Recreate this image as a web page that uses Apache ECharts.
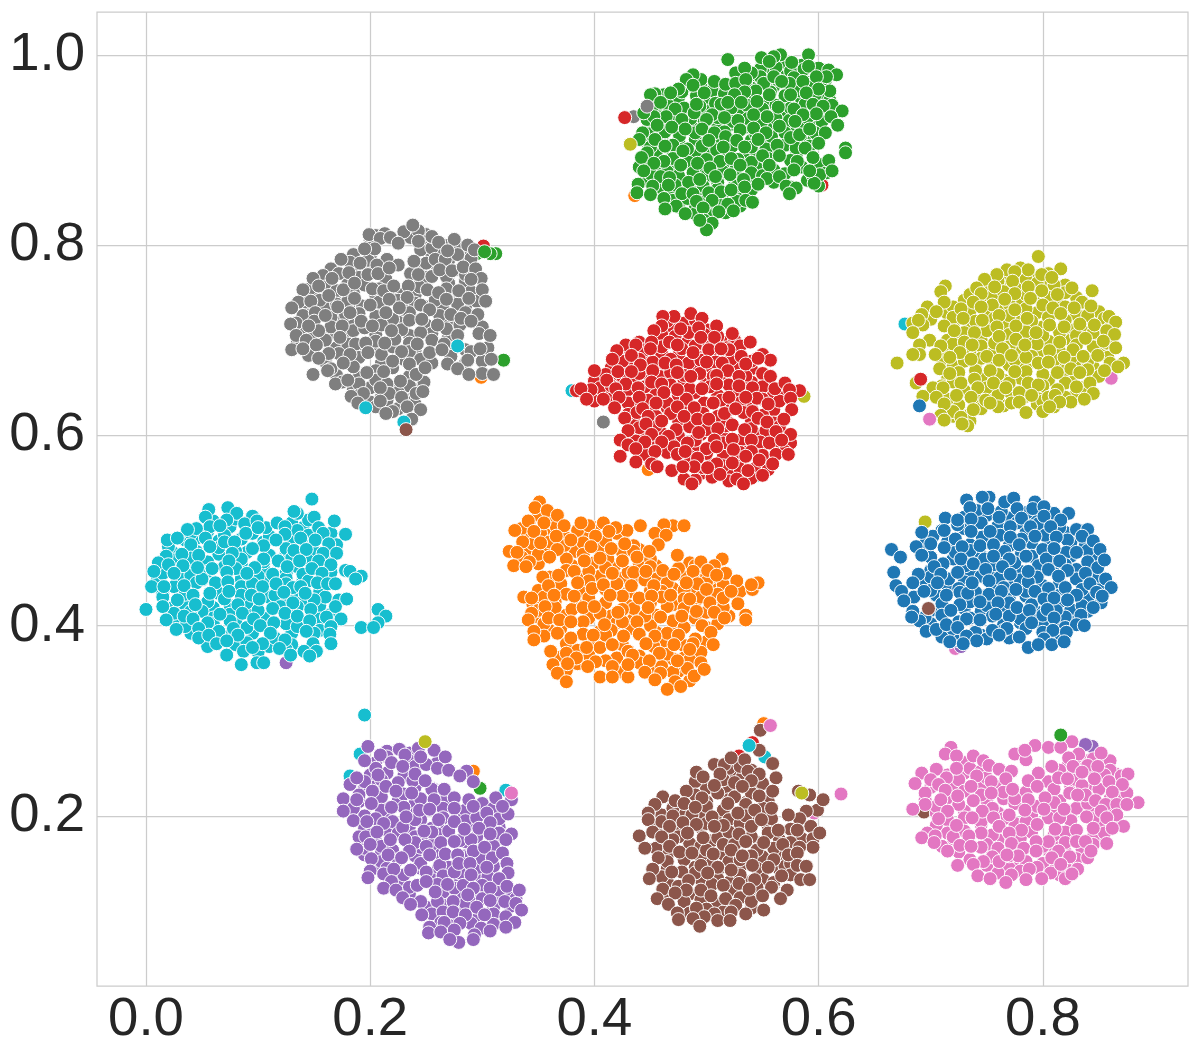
<!DOCTYPE html>
<html><head><meta charset="utf-8">
<style>html,body{margin:0;padding:0;background:#fff}#c{width:1200px;height:1050px}</style>
<script src="https://cdn.jsdelivr.net/npm/echarts@6/dist/echarts.min.js"></script>
</head><body><div id="c"></div>
<script>
const xTicks=[0,0.2,0.4,0.6,0.8];
const yTicks=[0.2,0.4,0.6,0.8,1.0];
const palette=['#1f77b4','#ff7f0e','#2ca02c','#d62728','#9467bd','#8c564b','#e377c2','#7f7f7f','#bcbd22','#17becf'];
const blue=[[.752,.535],[.746,.535],[.732,.532],[.766,.530],[.774,.534],[.793,.530],[.735,.524],[.751,.523],[.777,.523],[.791,.523],[.823,.518],[.801,.525],[.713,.513],[.724,.511],[.736,.512],[.761,.514],[.801,.515],[.816,.511],[.781,.513],[.692,.498],[.712,.500],[.736,.499],[.753,.499],[.771,.504],[.789,.504],[.807,.504],[.830,.501],[.840,.501],[.835,.494],[.845,.489],[.700,.486],[.712,.482],[.744,.484],[.756,.485],[.771,.493],[.793,.494],[.812,.493],[.779,.485],[.665,.480],[.687,.483],[.851,.480],[.673,.472],[.692,.474],[.727,.470],[.756,.473],[.785,.473],[.810,.481],[.830,.477],[.703,.462],[.738,.465],[.749,.459],[.764,.462],[.815,.468],[.849,.461],[.855,.469],[.667,.456],[.689,.454],[.724,.456],[.709,.454],[.787,.457],[.771,.454],[.822,.458],[.838,.455],[.856,.449],[.669,.442],[.684,.445],[.706,.445],[.737,.445],[.752,.447],[.805,.459],[.814,.452],[.842,.444],[.861,.440],[.674,.436],[.694,.436],[.714,.432],[.752,.433],[.763,.436],[.776,.438],[.793,.436],[.820,.440],[.830,.432],[.848,.435],[.853,.431],[.676,.426],[.698,.418],[.726,.422],[.744,.425],[.760,.424],[.801,.428],[.810,.429],[.822,.427],[.845,.419],[.684,.415],[.683,.409],[.718,.416],[.758,.412],[.777,.419],[.788,.416],[.804,.417],[.834,.411],[.696,.394],[.705,.396],[.714,.401],[.732,.407],[.744,.406],[.755,.395],[.768,.397],[.810,.408],[.790,.403],[.830,.401],[.837,.400],[.724,.398],[.732,.389],[.809,.395],[.779,.388],[.821,.393],[.717,.383],[.741,.384],[.761,.390],[.801,.386],[.787,.377],[.796,.380],[.808,.380],[.819,.383],[.729,.381]];
const blueHidden=[[.741,.521],[.763,.520],[.786,.519],[.810,.518],[.724,.506],[.745,.508],[.760,.505],[.777,.508],[.796,.507],[.815,.503],[.702,.494],[.722,.491],[.746,.493],[.762,.495],[.781,.491],[.802,.495],[.822,.490],[.722,.477],[.735,.479],[.766,.478],[.781,.476],[.800,.480],[.821,.477],[.840,.479],[.711,.465],[.731,.463],[.756,.464],[.775,.466],[.796,.463],[.820,.464],[.840,.467],[.700,.451],[.716,.449],[.745,.452],[.761,.450],[.780,.448],[.795,.451],[.830,.449],[.850,.452],[.700,.437],[.725,.439],[.740,.435],[.765,.440],[.785,.436],[.805,.439],[.835,.438],[.710,.423],[.735,.425],[.750,.421],[.770,.424],[.790,.422],[.815,.425],[.835,.421],[.852,.424],[.695,.409],[.710,.411],[.735,.408],[.755,.410],[.780,.407],[.800,.411],[.820,.409],[.690,.405],[.720,.396],[.740,.393],[.765,.395],[.785,.397],[.800,.393],[.820,.398],[.725,.384],[.750,.386],[.805,.384],[.770,.410],[.726,.435],[.787,.446],[.812,.416],[.733,.434],[.770,.470],[.803,.470],[.728,.483],[.748,.470]];
const blueDeep=[[.730,.514],[.750,.516],[.770,.513],[.790,.515],[.808,.512],[.710,.500],[.730,.502],[.750,.498],[.765,.501],[.785,.498],[.800,.501],[.820,.498],[.832,.500],[.695,.486],[.715,.488],[.735,.485],[.752,.487],[.770,.484],[.790,.487],[.805,.485],[.825,.487],[.838,.485],[.700,.472],[.720,.470],[.745,.473],[.765,.471],[.790,.473],[.810,.470],[.825,.473],[.845,.471],[.700,.458],[.735,.456],[.755,.459],[.780,.457],[.800,.459],[.815,.456],[.830,.459],[.845,.457],[.695,.444],[.715,.442],[.730,.446],[.760,.443],[.775,.445],[.800,.442],[.815,.445],[.850,.443],[.685,.430],[.705,.432],[.730,.428],[.745,.431],[.770,.429],[.785,.431],[.815,.432],[.840,.429],[.700,.416],[.730,.418],[.745,.415],[.765,.417],[.795,.414],[.825,.417],[.840,.415],[.700,.402],[.725,.404],[.765,.401],[.780,.403],[.800,.400],[.815,.403],[.825,.404],[.710,.388],[.745,.390],[.770,.387],[.815,.389]];
const orange=[[.351,.530],[.347,.524],[.358,.521],[.367,.516],[.341,.510],[.355,.508],[.329,.500],[.346,.499],[.373,.505],[.395,.505],[.408,.508],[.388,.508],[.441,.505],[.470,.505],[.480,.505],[.462,.506],[.429,.500],[.419,.503],[.336,.488],[.352,.487],[.366,.494],[.379,.490],[.401,.494],[.413,.499],[.427,.486],[.454,.497],[.464,.495],[.324,.478],[.367,.480],[.397,.483],[.415,.481],[.457,.485],[.449,.478],[.331,.477],[.328,.463],[.342,.467],[.360,.472],[.391,.468],[.405,.471],[.425,.468],[.438,.472],[.474,.474],[.514,.470],[.339,.462],[.495,.467],[.507,.463],[.354,.451],[.368,.453],[.382,.457],[.416,.455],[.446,.457],[.461,.458],[.488,.457],[.471,.454],[.501,.458],[.517,.455],[.509,.453],[.359,.442],[.398,.439],[.408,.443],[.433,.442],[.453,.442],[.492,.444],[.527,.447],[.541,.438],[.546,.445],[.540,.443],[.482,.445],[.337,.430],[.344,.429],[.364,.432],[.382,.431],[.414,.432],[.440,.429],[.451,.431],[.468,.432],[.500,.438],[.515,.429],[.522,.436],[.385,.445],[.356,.420],[.390,.419],[.400,.420],[.425,.417],[.448,.419],[.485,.428],[.503,.424],[.528,.423],[.344,.413],[.359,.408],[.369,.406],[.421,.414],[.459,.409],[.478,.410],[.491,.415],[.507,.414],[.535,.411],[.535,.406],[.516,.408],[.341,.406],[.379,.404],[.409,.401],[.438,.404],[.496,.400],[.346,.394],[.346,.385],[.367,.392],[.379,.387],[.399,.390],[.426,.389],[.440,.391],[.454,.389],[.475,.390],[.504,.393],[.361,.373],[.393,.377],[.416,.380],[.446,.381],[.471,.380],[.488,.381],[.506,.380],[.375,.371],[.458,.371],[.434,.369],[.485,.375],[.384,.366],[.363,.359],[.376,.360],[.401,.362],[.416,.357],[.430,.359],[.449,.363],[.483,.355],[.495,.361],[.394,.357],[.474,.363],[.445,.351],[.459,.350],[.367,.350],[.405,.346],[.375,.341],[.416,.346],[.472,.341],[.465,.333],[.477,.336],[.489,.347],[.498,.354],[.454,.343]];
const orangeHidden=[[.350,.516],[.362,.512],[.335,.502],[.352,.497],[.366,.504],[.385,.500],[.400,.503],[.420,.497],[.345,.486],[.360,.488],[.373,.484],[.390,.487],[.410,.489],[.435,.484],[.335,.472],[.350,.475],[.375,.470],[.390,.475],[.412,.470],[.435,.478],[.450,.470],[.375,.458],[.395,.457],[.410,.461],[.430,.456],[.450,.462],[.475,.460],[.490,.463],[.500,.451],[.370,.444],[.395,.447],[.420,.444],[.445,.448],[.465,.445],[.480,.437],[.500,.446],[.515,.443],[.355,.430],[.375,.433],[.395,.429],[.425,.431],[.460,.436],[.480,.428],[.495,.430],[.510,.433],[.350,.416],[.365,.419],[.380,.417],[.405,.413],[.435,.418],[.465,.420],[.480,.418],[.500,.414],[.515,.419],[.355,.402],[.390,.404],[.420,.403],[.450,.400],[.470,.405],[.480,.398],[.510,.402],[.355,.389],[.390,.391],[.410,.388],[.415,.395],[.465,.392],[.490,.386],[.385,.374],[.405,.377],[.430,.373],[.465,.370],[.480,.366],[.495,.372],[.385,.360],[.410,.363],[.440,.361],[.460,.357],[.485,.364],[.430,.346],[.470,.351],[.485,.342],[.530,.436],[.460,.430],[.435,.456],[.425,.404],[.445,.410],[.410,.390],[.453,.378]];
const orangeDeep=[[.342,.510],[.358,.514],[.340,.493],[.358,.495],[.375,.492],[.390,.495],[.408,.492],[.425,.494],[.340,.479],[.360,.481],[.383,.478],[.405,.480],[.425,.477],[.440,.480],[.350,.465],[.380,.463],[.400,.466],[.418,.463],[.440,.465],[.455,.463],[.485,.466],[.360,.451],[.390,.449],[.405,.452],[.425,.450],[.440,.452],[.455,.449],[.480,.451],[.495,.453],[.510,.449],[.350,.437],[.365,.439],[.390,.436],[.410,.438],[.430,.435],[.450,.437],[.470,.439],[.490,.436],[.510,.438],[.525,.435],[.345,.423],[.365,.425],[.385,.422],[.410,.424],[.430,.421],[.450,.424],[.470,.422],[.490,.425],[.510,.422],[.350,.409],[.375,.411],[.395,.408],[.415,.410],[.435,.407],[.455,.411],[.490,.408],[.520,.410],[.360,.395],[.370,.397],[.405,.394],[.430,.396],[.455,.393],[.470,.396],[.500,.398],[.375,.381],[.400,.383],[.425,.380],[.460,.382],[.480,.379],[.500,.383],[.370,.367],[.395,.369],[.420,.366],[.440,.368],[.470,.365],[.490,.368],[.375,.353],[.425,.351],[.455,.355],[.475,.352]];
const green=[[.519,.995],[.566,1.0],[.591,1.0],[.560,.998],[.549,.997],[.576,.992],[.591,.988],[.556,.993],[.609,.984],[.616,.979],[.607,.977],[.598,.977],[.540,.981],[.526,.981],[.534,.986],[.488,.979],[.482,.974],[.488,.968],[.507,.972],[.517,.969],[.526,.970],[.535,.974],[.551,.970],[.560,.977],[.574,.970],[.586,.972],[.567,.972],[.610,.962],[.600,.964],[.589,.960],[.575,.958],[.556,.958],[.544,.962],[.534,.961],[.525,.958],[.498,.960],[.475,.964],[.468,.960],[.454,.959],[.450,.958],[.459,.950],[.472,.943],[.489,.939],[.491,.948],[.513,.948],[.505,.937],[.519,.950],[.531,.950],[.545,.951],[.564,.945],[.578,.943],[.595,.948],[.604,.946],[.621,.941],[.611,.935],[.598,.938],[.586,.937],[.579,.930],[.554,.935],[.542,.937],[.528,.931],[.516,.934],[.500,.932],[.478,.932],[.464,.935],[.453,.935],[.444,.939],[.456,.926],[.469,.924],[.481,.922],[.496,.922],[.507,.918],[.517,.914],[.530,.921],[.542,.923],[.553,.918],[.565,.925],[.575,.913],[.583,.916],[.592,.922],[.606,.918],[.617,.926],[.443,.918],[.440,.911],[.454,.911],[.463,.904],[.479,.899],[.502,.910],[.515,.903],[.527,.910],[.534,.903],[.546,.911],[.563,.905],[.588,.902],[.600,.907],[.624,.902],[.624,.897],[.447,.897],[.442,.892],[.462,.888],[.453,.886],[.477,.884],[.492,.886],[.512,.888],[.522,.891],[.550,.894],[.565,.894],[.581,.888],[.595,.892],[.609,.889],[.530,.884],[.556,.884],[.503,.881],[.459,.872],[.444,.878],[.467,.871],[.484,.866],[.494,.869],[.508,.872],[.521,.874],[.533,.869],[.554,.870],[.565,.872],[.578,.879],[.601,.874],[.612,.878],[.439,.864],[.452,.862],[.466,.863],[.478,.854],[.488,.854],[.502,.855],[.513,.856],[.522,.858],[.534,.861],[.546,.864],[.571,.862],[.580,.860],[.596,.865],[.592,.878],[.574,.854],[.438,.855],[.450,.853],[.462,.849],[.505,.847],[.519,.843],[.535,.847],[.541,.845],[.491,.846],[.473,.841],[.463,.838],[.481,.833],[.497,.839],[.511,.835],[.524,.836],[.498,.826],[.505,.823],[.500,.816],[.494,.826]];
const greenHidden=[[.548,.985],[.562,.987],[.575,.983],[.587,.985],[.600,.986],[.495,.974],[.535,.972],[.548,.977],[.563,.974],[.578,.976],[.592,.971],[.606,.973],[.462,.958],[.478,.961],[.491,.957],[.505,.962],[.516,.959],[.530,.963],[.543,.958],[.557,.961],[.570,.957],[.583,.962],[.597,.958],[.452,.946],[.465,.948],[.480,.944],[.494,.946],[.508,.949],[.522,.944],[.536,.947],[.550,.943],[.562,.947],[.575,.944],[.588,.948],[.600,.943],[.612,.947],[.447,.932],[.460,.934],[.473,.930],[.486,.933],[.498,.930],[.510,.934],[.523,.930],[.537,.933],[.549,.929],[.562,.933],[.574,.931],[.590,.934],[.603,.930],[.450,.917],[.463,.919],[.476,.915],[.490,.918],[.503,.915],[.516,.919],[.544,.917],[.558,.914],[.570,.918],[.584,.915],[.597,.918],[.450,.903],[.470,.905],[.483,.901],[.496,.904],[.509,.900],[.523,.904],[.540,.903],[.553,.901],[.570,.905],[.580,.902],[.592,.904],[.448,.889],[.470,.891],[.484,.887],[.500,.890],[.515,.886],[.528,.890],[.540,.887],[.555,.891],[.575,.889],[.600,.885],[.450,.875],[.465,.877],[.475,.873],[.488,.876],[.500,.873],[.515,.877],[.527,.873],[.540,.876],[.550,.873],[.570,.875],[.595,.873],[.607,.876],[.458,.861],[.472,.863],[.485,.859],[.497,.862],[.510,.859],[.527,.862],[.540,.858],[.575,.861],[.600,.862],[.470,.847],[.483,.849],[.497,.845],[.512,.848],[.527,.846],[.490,.833],[.503,.831],[.517,.834]];
const greenDeep=[[.550,.990],[.570,.992],[.585,.989],[.540,.978],[.555,.980],[.570,.977],[.585,.979],[.600,.980],[.480,.965],[.495,.967],[.510,.964],[.520,.966],[.540,.965],[.560,.967],[.580,.964],[.595,.966],[.605,.965],[.460,.953],[.475,.955],[.500,.952],[.510,.954],[.525,.951],[.540,.954],[.555,.952],[.570,.955],[.585,.952],[.600,.954],[.610,.952],[.455,.940],[.470,.942],[.480,.939],[.500,.941],[.515,.938],[.530,.941],[.545,.939],[.560,.941],[.570,.938],[.595,.941],[.610,.939],[.450,.925],[.460,.927],[.475,.924],[.490,.926],[.510,.923],[.520,.926],[.535,.924],[.550,.927],[.560,.924],[.575,.926],[.585,.923],[.600,.925],[.445,.910],[.460,.912],[.475,.909],[.490,.911],[.510,.908],[.520,.911],[.540,.910],[.555,.908],[.575,.911],[.590,.909],[.455,.896],[.470,.898],[.490,.895],[.505,.897],[.520,.894],[.535,.897],[.545,.895],[.560,.898],[.580,.895],[.440,.882],[.460,.884],[.470,.881],[.495,.883],[.505,.880],[.520,.883],[.545,.881],[.560,.879],[.585,.882],[.605,.880],[.445,.868],[.460,.870],[.480,.867],[.495,.869],[.510,.866],[.525,.869],[.540,.867],[.560,.866],[.590,.868],[.460,.854],[.470,.856],[.495,.853],[.515,.855],[.530,.852],[.475,.840],[.490,.842],[.505,.839],[.530,.841]];
const red=[[.486,.728],[.471,.725],[.461,.725],[.496,.723],[.509,.715],[.477,.712],[.493,.713],[.460,.715],[.453,.710],[.523,.707],[.539,.698],[.507,.703],[.495,.703],[.467,.698],[.474,.695],[.451,.698],[.428,.695],[.437,.695],[.450,.691],[.488,.687],[.502,.690],[.520,.690],[.513,.691],[.420,.689],[.433,.684],[.416,.680],[.441,.674],[.463,.676],[.473,.674],[.500,.677],[.514,.676],[.531,.683],[.535,.675],[.550,.685],[.557,.679],[.400,.668],[.421,.667],[.433,.667],[.452,.668],[.474,.666],[.486,.662],[.519,.668],[.546,.681],[.557,.662],[.529,.662],[.509,.663],[.411,.658],[.428,.654],[.439,.650],[.451,.656],[.460,.654],[.496,.649],[.474,.648],[.509,.654],[.529,.652],[.541,.650],[.561,.649],[.570,.655],[.583,.647],[.384,.647],[.397,.648],[.388,.649],[.462,.645],[.419,.649],[.574,.648],[.575,.639],[.520,.640],[.545,.639],[.393,.638],[.408,.638],[.422,.640],[.440,.640],[.455,.634],[.474,.630],[.489,.629],[.506,.634],[.535,.640],[.555,.633],[.576,.627],[.418,.629],[.443,.628],[.516,.623],[.526,.628],[.541,.625],[.427,.618],[.448,.620],[.446,.612],[.460,.615],[.480,.620],[.492,.617],[.502,.617],[.546,.618],[.554,.614],[.569,.617],[.523,.611],[.430,.605],[.451,.601],[.466,.599],[.493,.603],[.510,.607],[.507,.595],[.534,.606],[.575,.601],[.562,.604],[.423,.595],[.430,.590],[.445,.593],[.471,.588],[.460,.593],[.483,.592],[.500,.586],[.523,.596],[.540,.595],[.556,.592],[.567,.595],[.437,.586],[.454,.583],[.474,.580],[.481,.583],[.492,.576],[.524,.585],[.540,.583],[.562,.580],[.573,.580],[.509,.588],[.423,.578],[.437,.572],[.451,.570],[.509,.570],[.523,.571],[.547,.574],[.535,.578],[.559,.570],[.456,.567],[.469,.563],[.489,.567],[.501,.566],[.512,.559],[.537,.563],[.550,.558],[.480,.554],[.527,.554],[.487,.549],[.533,.549],[.479,.567]];
const redHidden=[[.465,.720],[.480,.718],[.490,.721],[.460,.706],[.472,.704],[.484,.708],[.498,.706],[.510,.704],[.430,.692],[.445,.690],[.460,.693],[.478,.691],[.490,.694],[.505,.690],[.518,.692],[.530,.694],[.425,.678],[.440,.680],[.452,.677],[.468,.680],[.484,.676],[.495,.679],[.508,.677],[.522,.680],[.540,.678],[.410,.664],[.425,.662],[.440,.665],[.458,.662],[.468,.666],[.480,.663],[.494,.665],[.506,.662],[.517,.665],[.535,.662],[.550,.665],[.405,.650],[.415,.652],[.430,.648],[.445,.651],[.468,.653],[.485,.649],[.503,.651],[.520,.653],[.535,.649],[.550,.651],[.565,.648],[.400,.636],[.415,.638],[.430,.634],[.448,.637],[.465,.634],[.482,.638],[.498,.634],[.513,.637],[.530,.634],[.550,.638],[.565,.636],[.430,.622],[.438,.624],[.455,.620],[.468,.623],[.485,.619],[.497,.623],[.510,.620],[.533,.624],[.550,.621],[.440,.608],[.455,.610],[.473,.606],[.485,.609],[.500,.606],[.517,.610],[.540,.607],[.553,.605],[.565,.609],[.437,.594],[.452,.596],[.468,.592],[.490,.595],[.515,.592],[.532,.596],[.548,.593],[.575,.592],[.445,.580],[.465,.582],[.485,.578],[.500,.581],[.515,.578],[.530,.582],[.550,.579],[.570,.583],[.497,.566],[.515,.568],[.530,.565],[.545,.567],[.555,.564],[.490,.553],[.505,.556],[.520,.552],[.540,.555]];
const redDeep=[[.470,.712],[.490,.714],[.500,.711],[.440,.698],[.460,.700],[.482,.697],[.500,.699],[.515,.698],[.525,.700],[.430,.685],[.445,.683],[.460,.686],[.475,.684],[.490,.686],[.510,.684],[.525,.686],[.415,.671],[.430,.673],[.445,.670],[.460,.672],[.478,.669],[.490,.672],[.505,.670],[.525,.672],[.540,.670],[.400,.657],[.420,.659],[.435,.656],[.450,.658],[.465,.655],[.480,.658],[.500,.656],[.515,.658],[.540,.656],[.555,.658],[.410,.643],[.425,.645],[.440,.642],[.455,.644],[.475,.642],[.490,.645],[.510,.642],[.525,.644],[.540,.642],[.560,.644],[.435,.630],[.450,.627],[.465,.629],[.480,.627],[.497,.630],[.520,.627],[.540,.629],[.560,.627],[.435,.615],[.450,.613],[.475,.616],[.490,.613],[.505,.615],[.520,.613],[.540,.616],[.560,.613],[.440,.600],[.460,.602],[.475,.599],[.495,.601],[.515,.599],[.545,.601],[.560,.598],[.570,.601],[.450,.587],[.465,.589],[.490,.586],[.510,.588],[.530,.586],[.550,.589],[.565,.587],[.450,.574],[.500,.573],[.515,.575],[.530,.572],[.550,.574],[.495,.560],[.520,.562],[.540,.560]];
const purple=[[.198,.273],[.209,.264],[.195,.258],[.226,.270],[.231,.264],[.243,.271],[.257,.269],[.267,.262],[.245,.262],[.182,.233],[.176,.218],[.188,.240],[.188,.217],[.176,.205],[.202,.226],[.207,.243],[.219,.256],[.229,.252],[.240,.244],[.260,.250],[.270,.248],[.286,.247],[.280,.242],[.292,.236],[.214,.231],[.223,.226],[.237,.224],[.266,.228],[.249,.237],[.201,.213],[.219,.209],[.257,.217],[.275,.219],[.288,.217],[.312,.219],[.326,.217],[.244,.206],[.275,.208],[.253,.207],[.304,.203],[.323,.202],[.318,.210],[.292,.210],[.197,.194],[.212,.192],[.229,.188],[.261,.196],[.275,.194],[.307,.193],[.232,.199],[.326,.181],[.190,.178],[.196,.178],[.206,.183],[.218,.175],[.248,.184],[.284,.186],[.297,.187],[.307,.181],[.188,.165],[.200,.170],[.231,.175],[.263,.172],[.275,.173],[.292,.163],[.302,.167],[.321,.175],[.201,.155],[.216,.159],[.235,.163],[.253,.159],[.267,.160],[.278,.159],[.309,.156],[.318,.161],[.322,.150],[.228,.156],[.200,.142],[.198,.135],[.212,.139],[.221,.144],[.236,.143],[.279,.150],[.289,.150],[.304,.146],[.323,.140],[.219,.131],[.242,.127],[.250,.131],[.269,.128],[.290,.138],[.315,.134],[.322,.126],[.212,.124],[.223,.122],[.333,.122],[.292,.124],[.307,.124],[.287,.117],[.229,.114],[.245,.110],[.258,.120],[.274,.110],[.307,.111],[.236,.107],[.295,.104],[.335,.101],[.246,.096],[.274,.099],[.285,.096],[.302,.096],[.321,.094],[.329,.088],[.263,.088],[.253,.083],[.266,.088],[.280,.087],[.299,.082],[.321,.083],[.252,.077],[.263,.078],[.275,.080],[.293,.075],[.279,.067],[.271,.070],[.292,.070],[.307,.079]];
const purpleHidden=[[.215,.262],[.205,.250],[.240,.252],[.250,.254],[.195,.236],[.210,.238],[.225,.235],[.238,.237],[.255,.228],[.190,.222],[.210,.220],[.230,.223],[.245,.218],[.185,.208],[.210,.206],[.230,.209],[.265,.208],[.285,.206],[.310,.208],[.185,.195],[.205,.197],[.220,.194],[.245,.196],[.265,.198],[.285,.195],[.295,.198],[.315,.197],[.200,.180],[.225,.182],[.240,.178],[.260,.181],[.270,.184],[.295,.178],[.315,.182],[.195,.166],[.210,.168],[.220,.164],[.245,.167],[.255,.170],[.285,.173],[.310,.168],[.210,.152],[.225,.154],[.245,.150],[.262,.148],[.290,.160],[.300,.155],[.230,.138],[.250,.141],[.265,.137],[.280,.140],[.305,.136],[.330,.113],[.235,.125],[.260,.128],[.275,.124],[.300,.127],[.315,.122],[.260,.110],[.285,.108],[.295,.113],[.320,.110],[.255,.097],[.265,.099],[.295,.091],[.310,.097],[.330,.108],[.270,.085],[.290,.087],[.310,.086],[.240,.196],[.240,.172],[.280,.174],[.255,.183],[.300,.113],[.283,.127],[.215,.145],[.290,.175],[.250,.168],[.275,.141]];
const purpleDeep=[[.215,.268],[.235,.266],[.205,.256],[.235,.258],[.260,.256],[.200,.243],[.215,.245],[.230,.242],[.195,.229],[.205,.231],[.240,.230],[.255,.229],[.190,.215],[.210,.213],[.225,.216],[.240,.213],[.265,.215],[.300,.213],[.195,.200],[.215,.202],[.240,.202],[.265,.200],[.280,.202],[.300,.199],[.315,.202],[.195,.187],[.215,.185],[.235,.189],[.255,.187],[.265,.189],[.290,.185],[.315,.188],[.205,.173],[.240,.175],[.250,.172],[.285,.180],[.310,.174],[.195,.159],[.210,.161],[.240,.158],[.260,.161],[.285,.158],[.300,.160],[.210,.147],[.245,.145],[.260,.143],[.270,.146],[.295,.144],[.310,.147],[.225,.131],[.255,.133],[.280,.130],[.300,.132],[.310,.130],[.235,.118],[.265,.120],[.280,.116],[.315,.117],[.325,.119],[.250,.104],[.265,.106],[.285,.102],[.310,.104],[.325,.105],[.275,.091],[.310,.090]];
const brown=[[.548,.290],[.547,.269],[.559,.255],[.534,.259],[.507,.254],[.516,.254],[.522,.261],[.491,.246],[.497,.241],[.512,.244],[.537,.247],[.547,.244],[.562,.240],[.540,.237],[.482,.226],[.507,.232],[.496,.219],[.532,.231],[.559,.226],[.547,.221],[.461,.220],[.472,.216],[.480,.213],[.519,.213],[.454,.212],[.448,.203],[.490,.209],[.505,.199],[.528,.203],[.543,.206],[.558,.208],[.582,.226],[.592,.222],[.599,.206],[.604,.217],[.589,.205],[.583,.197],[.448,.196],[.467,.189],[.479,.193],[.491,.191],[.507,.189],[.540,.189],[.549,.196],[.564,.185],[.573,.201],[.593,.189],[.440,.179],[.452,.183],[.460,.178],[.483,.182],[.529,.181],[.497,.177],[.551,.172],[.535,.173],[.595,.176],[.601,.182],[.581,.185],[.467,.168],[.445,.166],[.476,.162],[.487,.161],[.506,.160],[.522,.164],[.532,.158],[.568,.170],[.595,.167],[.583,.167],[.457,.156],[.495,.148],[.510,.146],[.555,.146],[.573,.159],[.581,.161],[.581,.148],[.589,.147],[.452,.144],[.478,.141],[.501,.140],[.522,.143],[.541,.148],[.449,.134],[.469,.141],[.484,.132],[.543,.133],[.529,.129],[.515,.127],[.567,.137],[.584,.133],[.592,.133],[.461,.123],[.482,.122],[.495,.122],[.538,.123],[.558,.125],[.572,.122],[.472,.119],[.456,.113],[.504,.116],[.517,.113],[.550,.116],[.566,.113],[.466,.107],[.526,.106],[.491,.103],[.507,.097],[.535,.097],[.551,.101],[.474,.098],[.498,.094],[.522,.099],[.475,.091],[.488,.092],[.510,.090],[.521,.090],[.494,.084]];
const brownHidden=[[.520,.250],[.530,.252],[.540,.248],[.490,.236],[.515,.238],[.525,.235],[.550,.234],[.490,.222],[.510,.224],[.525,.220],[.540,.224],[.470,.208],[.500,.210],[.515,.206],[.535,.212],[.550,.208],[.460,.194],[.500,.192],[.520,.196],[.530,.192],[.558,.197],[.465,.180],[.475,.178],[.510,.177],[.520,.183],[.540,.178],[.555,.182],[.585,.176],[.455,.166],[.495,.168],[.515,.170],[.545,.164],[.560,.166],[.575,.172],[.465,.152],[.480,.154],[.505,.150],[.520,.152],[.540,.158],[.560,.154],[.575,.150],[.460,.136],[.490,.140],[.510,.134],[.530,.138],[.550,.134],[.575,.138],[.475,.126],[.505,.128],[.525,.122],[.545,.125],[.560,.130],[.480,.110],[.495,.112],[.510,.108],[.530,.114],[.540,.110],[.485,.098],[.500,.102],[.515,.099],[.530,.154],[.487,.201],[.515,.190],[.500,.164],[.470,.200],[.535,.200],[.525,.170],[.545,.145],[.470,.175]];
const brownDeep=[[.525,.243],[.532,.241],[.500,.229],[.520,.227],[.545,.230],[.500,.215],[.520,.217],[.535,.214],[.555,.216],[.460,.201],[.480,.203],[.495,.200],[.515,.198],[.540,.202],[.555,.200],[.455,.187],[.475,.185],[.495,.188],[.515,.184],[.525,.187],[.555,.189],[.575,.186],[.460,.173],[.485,.171],[.505,.174],[.520,.175],[.545,.172],[.565,.175],[.465,.159],[.495,.157],[.515,.160],[.550,.157],[.565,.159],[.465,.145],[.490,.146],[.510,.143],[.530,.146],[.565,.144],[.570,.147],[.465,.131],[.495,.133],[.520,.130],[.540,.131],[.560,.128],[.465,.117],[.485,.118],[.530,.120],[.540,.117],[.500,.104],[.515,.103],[.540,.103]];
const pink=[[.718,.272],[.713,.265],[.723,.263],[.738,.263],[.747,.258],[.752,.253],[.775,.265],[.785,.259],[.793,.274],[.784,.269],[.805,.272],[.826,.278],[.816,.272],[.832,.265],[.852,.266],[.823,.261],[.692,.245],[.705,.249],[.723,.250],[.741,.242],[.761,.249],[.772,.247],[.796,.245],[.808,.252],[.827,.252],[.849,.252],[.835,.246],[.870,.242],[.876,.244],[.686,.234],[.700,.238],[.714,.240],[.707,.233],[.736,.231],[.754,.236],[.767,.239],[.787,.237],[.814,.240],[.822,.239],[.846,.239],[.859,.236],[.871,.233],[.713,.227],[.724,.221],[.754,.224],[.773,.228],[.795,.231],[.862,.225],[.824,.224],[.802,.219],[.709,.217],[.831,.222],[.695,.212],[.684,.207],[.738,.216],[.787,.217],[.847,.216],[.856,.212],[.866,.212],[.885,.214],[.875,.212],[.715,.205],[.746,.205],[.770,.201],[.784,.206],[.801,.207],[.819,.207],[.839,.199],[.852,.205],[.866,.201],[.707,.197],[.737,.198],[.756,.198],[.857,.198],[.872,.189],[.723,.190],[.761,.189],[.795,.191],[.811,.186],[.845,.187],[.862,.187],[.697,.182],[.692,.177],[.704,.179],[.745,.182],[.781,.185],[.830,.185],[.734,.179],[.770,.182],[.805,.173],[.794,.173],[.830,.173],[.857,.171],[.838,.173],[.715,.163],[.726,.169],[.736,.168],[.772,.171],[.783,.166],[.814,.163],[.843,.163],[.703,.172],[.747,.152],[.778,.158],[.794,.163],[.808,.156],[.824,.157],[.724,.148],[.761,.152],[.768,.159],[.738,.149],[.831,.144],[.742,.137],[.753,.134],[.772,.138],[.788,.144],[.807,.140],[.816,.149],[.767,.130],[.785,.133],[.799,.134],[.820,.134],[.826,.139]];
const pinkHidden=[[.830,.262],[.845,.260],[.860,.258],[.735,.250],[.745,.247],[.820,.250],[.840,.253],[.860,.248],[.725,.238],[.750,.240],[.815,.248],[.830,.238],[.855,.243],[.870,.238],[.695,.224],[.730,.226],[.745,.222],[.765,.225],[.810,.228],[.835,.232],[.850,.228],[.870,.222],[.705,.210],[.725,.212],[.755,.208],[.775,.213],[.795,.210],[.810,.214],[.830,.208],[.840,.213],[.860,.218],[.875,.224],[.715,.196],[.730,.198],[.745,.194],[.765,.197],[.785,.194],[.805,.198],[.825,.195],[.845,.197],[.865,.193],[.715,.182],[.730,.184],[.755,.180],[.790,.183],[.810,.180],[.820,.183],[.845,.178],[.855,.182],[.710,.168],[.750,.170],[.760,.166],[.800,.168],[.820,.172],[.845,.170],[.735,.154],[.755,.157],[.785,.152],[.800,.150],[.830,.155],[.760,.140],[.780,.142],[.795,.146],[.815,.138],[.775,.218],[.815,.198],[.720,.178],[.745,.167],[.770,.158],[.840,.156],[.838,.222]];
const pinkDeep=[[.730,.256],[.830,.256],[.840,.258],[.855,.255],[.715,.243],[.730,.245],[.825,.243],[.845,.246],[.865,.244],[.700,.230],[.720,.232],[.745,.229],[.760,.231],[.805,.236],[.825,.231],[.845,.233],[.865,.230],[.695,.217],[.715,.219],[.750,.216],[.765,.218],[.785,.225],[.815,.216],[.840,.219],[.865,.217],[.705,.203],[.730,.205],[.760,.203],[.790,.201],[.810,.204],[.825,.201],[.845,.204],[.860,.209],[.705,.190],[.745,.191],[.775,.192],[.785,.188],[.825,.189],[.850,.191],[.720,.176],[.760,.175],[.780,.177],[.815,.174],[.825,.178],[.850,.176],[.725,.162],[.755,.163],[.805,.164],[.820,.162],[.835,.165],[.750,.148],[.780,.149],[.810,.147],[.820,.146],[.770,.145]];
const gray=[[.199,.811],[.209,.807],[.218,.808],[.230,.814],[.243,.815],[.238,.821],[.225,.802],[.255,.809],[.261,.803],[.275,.806],[.287,.800],[.204,.796],[.195,.796],[.243,.804],[.174,.785],[.191,.781],[.206,.779],[.225,.779],[.239,.783],[.258,.785],[.267,.785],[.278,.790],[.293,.795],[.269,.794],[.149,.765],[.166,.765],[.181,.771],[.198,.769],[.207,.770],[.217,.776],[.243,.769],[.255,.767],[.262,.774],[.273,.773],[.283,.777],[.294,.775],[.299,.765],[.140,.753],[.154,.757],[.176,.753],[.186,.760],[.202,.754],[.212,.752],[.221,.757],[.234,.757],[.251,.753],[.261,.750],[.279,.752],[.290,.764],[.300,.753],[.136,.740],[.147,.741],[.163,.747],[.186,.744],[.200,.737],[.217,.743],[.233,.745],[.268,.743],[.288,.744],[.303,.741],[.130,.734],[.151,.729],[.171,.735],[.182,.729],[.192,.720],[.214,.729],[.226,.734],[.245,.737],[.253,.732],[.272,.727],[.281,.723],[.296,.727],[.134,.718],[.150,.720],[.160,.726],[.175,.715],[.202,.715],[.219,.710],[.235,.721],[.246,.722],[.260,.716],[.290,.720],[.129,.717],[.154,.710],[.145,.715],[.134,.705],[.143,.700],[.173,.703],[.187,.696],[.196,.697],[.213,.697],[.228,.688],[.242,.696],[.266,.696],[.278,.705],[.297,.707],[.307,.705],[.130,.690],[.140,.691],[.152,.695],[.163,.686],[.182,.685],[.198,.687],[.220,.678],[.253,.687],[.264,.690],[.298,.691],[.269,.675],[.287,.679],[.308,.680],[.154,.681],[.149,.664],[.162,.668],[.176,.676],[.197,.666],[.212,.667],[.227,.657],[.241,.664],[.249,.671],[.278,.670],[.300,.665],[.288,.664],[.310,.664],[.169,.654],[.180,.658],[.194,.644],[.183,.641],[.217,.644],[.228,.640],[.241,.644],[.247,.646],[.209,.650],[.209,.636],[.220,.625],[.233,.630],[.245,.627],[.214,.623],[.237,.617],[.189,.634]];
const grayHidden=[[.205,.810],[.213,.812],[.236,.808],[.250,.811],[.200,.800],[.245,.795],[.255,.797],[.280,.798],[.182,.782],[.198,.784],[.215,.785],[.250,.781],[.270,.784],[.290,.786],[.158,.768],[.172,.770],[.190,.766],[.214,.764],[.236,.770],[.250,.766],[.268,.767],[.285,.769],[.146,.754],[.160,.756],[.170,.752],[.195,.758],[.208,.754],[.228,.750],[.244,.756],[.268,.754],[.290,.751],[.142,.740],[.155,.742],[.170,.738],[.180,.741],[.193,.736],[.208,.740],[.225,.742],[.240,.739],[.258,.742],[.278,.738],[.295,.741],[.140,.726],[.165,.724],[.178,.727],[.190,.728],[.205,.725],[.220,.722],[.235,.729],[.262,.726],[.285,.729],[.140,.712],[.165,.714],[.185,.710],[.195,.713],[.210,.716],[.228,.711],[.245,.708],[.268,.712],[.280,.716],[.300,.714],[.135,.698],[.160,.700],[.180,.696],[.205,.699],[.222,.701],[.235,.697],[.255,.700],[.275,.692],[.145,.684],[.172,.686],[.190,.682],[.210,.685],[.235,.688],[.245,.680],[.272,.683],[.290,.688],[.165,.670],[.185,.672],[.205,.668],[.220,.671],[.235,.675],[.255,.676],[.175,.656],[.190,.654],[.205,.658],[.215,.654],[.235,.652],[.248,.656],[.190,.642],[.210,.640],[.225,.645],[.237,.638],[.205,.630],[.225,.628],[.240,.633]];
const grayDeep=[[.200,.805],[.250,.803],[.270,.800],[.185,.790],[.200,.788],[.255,.790],[.265,.792],[.285,.789],[.165,.775],[.185,.777],[.200,.774],[.245,.775],[.260,.778],[.280,.774],[.150,.760],[.165,.762],[.180,.759],[.195,.762],[.215,.758],[.245,.761],[.270,.760],[.285,.762],[.150,.748],[.168,.746],[.185,.750],[.205,.747],[.220,.749],[.240,.747],[.260,.745],[.280,.748],[.295,.746],[.140,.733],[.160,.735],[.190,.733],[.210,.734],[.230,.732],[.250,.735],[.265,.733],[.285,.735],[.140,.719],[.170,.721],[.185,.718],[.210,.722],[.225,.719],[.250,.716],[.270,.720],[.295,.719],[.150,.705],[.165,.707],[.180,.704],[.205,.706],[.235,.705],[.255,.707],[.270,.704],[.150,.690],[.170,.692],[.190,.689],[.205,.691],[.220,.693],[.240,.689],[.270,.692],[.285,.690],[.305,.692],[.160,.677],[.185,.679],[.210,.676],[.230,.680],[.285,.676],[.300,.678],[.170,.663],[.190,.661],[.205,.664],[.235,.662],[.185,.648],[.200,.650],[.225,.651],[.240,.648],[.200,.635],[.215,.637]];
const olive=[[.796,.788],[.816,.775],[.787,.774],[.799,.769],[.768,.774],[.759,.769],[.775,.772],[.748,.764],[.808,.766],[.773,.762],[.713,.757],[.709,.751],[.826,.755],[.844,.752],[.799,.752],[.813,.748],[.787,.756],[.757,.756],[.741,.755],[.745,.749],[.775,.749],[.766,.743],[.712,.740],[.697,.735],[.738,.740],[.705,.730],[.789,.744],[.843,.736],[.809,.734],[.828,.734],[.727,.733],[.745,.735],[.761,.726],[.775,.732],[.816,.728],[.859,.725],[.692,.727],[.693,.716],[.684,.718],[.689,.721],[.712,.715],[.729,.723],[.746,.721],[.759,.714],[.776,.715],[.786,.723],[.819,.714],[.833,.717],[.846,.716],[.865,.719],[.684,.708],[.721,.710],[.739,.708],[.761,.704],[.794,.708],[.806,.716],[.857,.710],[.864,.706],[.699,.700],[.709,.694],[.737,.695],[.776,.701],[.838,.702],[.854,.699],[.690,.695],[.690,.685],[.684,.685],[.704,.685],[.726,.687],[.750,.683],[.764,.691],[.784,.695],[.806,.689],[.827,.690],[.865,.692],[.670,.676],[.717,.682],[.736,.680],[.761,.679],[.772,.684],[.796,.676],[.805,.677],[.819,.682],[.836,.683],[.849,.684],[.860,.676],[.872,.676],[.708,.670],[.753,.668],[.775,.667],[.813,.666],[.825,.670],[.840,.669],[.855,.668],[.867,.672],[.717,.665],[.727,.655],[.739,.659],[.756,.655],[.787,.655],[.796,.653],[.833,.666],[.842,.655],[.687,.655],[.702,.650],[.711,.650],[.742,.650],[.767,.650],[.779,.645],[.813,.648],[.830,.651],[.845,.644],[.693,.641],[.705,.640],[.723,.642],[.736,.640],[.749,.637],[.790,.642],[.805,.640],[.811,.642],[.837,.638],[.825,.635],[.712,.633],[.772,.634],[.753,.634],[.779,.635],[.815,.635],[.806,.630],[.709,.621],[.727,.619],[.738,.627],[.785,.624],[.712,.616],[.733,.610],[.728,.612]];
const oliveHidden=[[.780,.776],[.760,.762],[.785,.764],[.795,.760],[.810,.758],[.735,.748],[.755,.746],[.765,.751],[.785,.748],[.805,.745],[.820,.750],[.720,.735],[.735,.730],[.755,.737],[.770,.738],[.785,.733],[.800,.737],[.820,.735],[.835,.740],[.700,.722],[.720,.724],[.740,.720],[.757,.723],[.770,.726],[.790,.720],[.805,.724],[.820,.721],[.840,.726],[.855,.723],[.730,.708],[.750,.710],[.770,.706],[.785,.709],[.800,.705],[.815,.708],[.830,.705],[.845,.708],[.860,.713],[.720,.696],[.745,.694],[.757,.697],[.770,.693],[.795,.696],[.815,.698],[.830,.695],[.845,.693],[.857,.697],[.710,.680],[.730,.678],[.745,.681],[.775,.679],[.790,.683],[.810,.679],[.825,.681],[.840,.678],[.858,.682],[.725,.666],[.740,.668],[.760,.664],[.785,.667],[.800,.664],[.820,.668],[.850,.662],[.710,.652],[.720,.656],[.750,.650],[.770,.655],[.800,.652],[.820,.655],[.835,.650],[.715,.638],[.740,.640],[.760,.642],[.783,.640],[.800,.636],[.820,.640],[.720,.625],[.745,.628],[.800,.625],[.765,.690],[.785,.682],[.730,.698],[.760,.630],[.735,.615]];
const oliveDeep=[[.770,.768],[.790,.766],[.805,.770],[.750,.755],[.770,.757],[.780,.754],[.800,.756],[.820,.758],[.730,.742],[.750,.744],[.760,.741],[.780,.743],[.800,.741],[.815,.743],[.830,.745],[.715,.728],[.730,.726],[.750,.729],[.765,.731],[.780,.727],[.795,.729],[.810,.731],[.830,.727],[.850,.730],[.720,.715],[.735,.717],[.750,.714],[.765,.716],[.780,.719],[.800,.714],[.825,.711],[.840,.714],[.855,.717],[.715,.700],[.725,.702],[.745,.700],[.765,.698],[.790,.701],[.805,.699],[.825,.700],[.845,.702],[.715,.687],[.735,.689],[.755,.686],[.775,.688],[.795,.685],[.815,.688],[.830,.686],[.855,.689],[.720,.673],[.740,.675],[.755,.672],[.770,.674],[.785,.671],[.800,.673],[.815,.671],[.830,.674],[.845,.672],[.715,.659],[.745,.661],[.765,.658],[.780,.660],[.805,.658],[.825,.661],[.710,.645],[.730,.647],[.755,.644],[.770,.646],[.795,.644],[.815,.647],[.830,.644],[.725,.632],[.740,.634],[.765,.631],[.795,.633],[.810,.630],[.720,.620],[.735,.622]];
const cyan=[[.148,.533],[.056,.522],[.073,.524],[.081,.518],[.135,.518],[.150,.514],[.053,.514],[.072,.511],[.095,.515],[.088,.507],[.107,.503],[.117,.508],[.124,.504],[.168,.510],[.057,.504],[.066,.505],[.132,.520],[.099,.510],[.045,.502],[.037,.501],[.019,.490],[.028,.492],[.053,.492],[.079,.488],[.089,.497],[.100,.503],[.124,.496],[.138,.492],[.154,.503],[.158,.497],[.178,.496],[.151,.490],[.057,.483],[.095,.481],[.116,.490],[.163,.486],[.132,.479],[.143,.480],[.158,.476],[.170,.476],[.032,.475],[.047,.474],[.077,.476],[.018,.473],[.011,.466],[.020,.464],[.033,.463],[.046,.461],[.059,.460],[.074,.468],[.097,.461],[.118,.468],[.126,.462],[.154,.468],[.165,.464],[.178,.458],[.182,.457],[.192,.452],[.187,.449],[.007,.457],[.025,.455],[.072,.456],[.090,.455],[.113,.454],[.148,.460],[.157,.455],[.137,.468],[.005,.441],[.016,.441],[.034,.442],[.062,.445],[.073,.446],[.104,.441],[.116,.444],[.131,.440],[.153,.445],[.162,.444],[.169,.444],[.042,.432],[.057,.434],[.094,.432],[.123,.435],[.138,.441],[.142,.434],[.074,.436],[.028,.427],[.015,.420],[.000,.417],[.044,.422],[.082,.422],[.101,.428],[.131,.424],[.147,.417],[.172,.427],[.179,.428],[.169,.420],[.018,.406],[.034,.410],[.042,.407],[.066,.412],[.055,.403],[.086,.413],[.113,.418],[.124,.413],[.161,.409],[.174,.407],[.207,.417],[.214,.410],[.135,.410],[.027,.396],[.047,.397],[.078,.397],[.096,.407],[.102,.400],[.114,.403],[.146,.405],[.065,.394],[.165,.399],[.192,.398],[.207,.403],[.203,.398],[.047,.387],[.056,.390],[.082,.390],[.111,.392],[.124,.385],[.143,.394],[.164,.391],[.063,.381],[.072,.384],[.104,.381],[.119,.376],[.149,.381],[.165,.381],[.087,.373],[.095,.377],[.141,.373],[.072,.369],[.129,.369],[.152,.373],[.146,.368],[.085,.359],[.099,.361],[.105,.361]];
const cyanHidden=[[.060,.510],[.080,.512],[.130,.508],[.145,.511],[.040,.497],[.055,.499],[.070,.495],[.095,.497],[.110,.494],[.135,.500],[.145,.495],[.165,.497],[.020,.483],[.040,.485],[.065,.482],[.080,.478],[.105,.484],[.125,.481],[.150,.478],[.170,.485],[.025,.469],[.040,.471],[.055,.467],[.085,.470],[.105,.467],[.130,.471],[.145,.468],[.162,.472],[.015,.455],[.040,.453],[.055,.457],[.080,.460],[.100,.452],[.125,.450],[.140,.454],[.165,.456],[.025,.441],[.045,.445],[.085,.441],[.095,.444],[.145,.447],[.125,.444],[.015,.430],[.035,.433],[.055,.425],[.070,.428],[.090,.424],[.110,.430],[.140,.425],[.160,.430],[.025,.413],[.050,.415],[.075,.412],[.100,.416],[.135,.420],[.150,.427],[.165,.412],[.035,.399],[.060,.402],[.090,.398],[.125,.402],[.135,.399],[.065,.385],[.090,.382],[.115,.387],[.150,.392],[.100,.372],[.125,.375],[.040,.415],[.075,.405],[.115,.432],[.085,.432],[.105,.470],[.070,.488],[.050,.449],[.120,.420]];
const cyanDeep=[[.075,.504],[.090,.506],[.140,.503],[.035,.490],[.045,.492],[.065,.489],[.085,.491],[.105,.488],[.130,.490],[.145,.487],[.165,.491],[.025,.476],[.045,.478],[.065,.475],[.090,.477],[.110,.474],[.125,.476],[.135,.474],[.150,.472],[.165,.478],[.035,.462],[.070,.462],[.085,.464],[.105,.460],[.135,.462],[.160,.460],[.010,.448],[.030,.450],[.050,.448],[.085,.449],[.105,.446],[.125,.455],[.140,.447],[.160,.450],[.015,.434],[.030,.436],[.065,.434],[.105,.435],[.130,.433],[.155,.436],[.025,.420],[.035,.422],[.060,.419],[.075,.421],[.095,.418],[.125,.425],[.155,.421],[.025,.406],[.060,.408],[.080,.405],[.105,.408],[.130,.405],[.155,.407],[.040,.392],[.070,.390],[.095,.392],[.110,.398],[.130,.392],[.155,.395],[.055,.378],[.080,.380],[.110,.378],[.130,.380]];
// stray points of another class: [x, y, class index]
const strayUnder=[[.435,.935,7],[.436,.852,1],[.603,.863,3],[.301,.799,3],[.312,.791,2],[.295,.791,2],[.319,.679,2],[.299,.661,1],[.380,.647,9],[.448,.564,1],[.546,.558,9],[.587,.641,8],[.677,.717,9],[.861,.660,6],[.125,.361,4],[.164,.454,8],[.695,.509,8],[.692,.404,6],[.722,.376,6],[.727,.378,4],[.191,.265,9],[.182,.242,9],[.292,.247,1],[.298,.229,2],[.321,.227,9],[.551,.297,1],[.541,.277,3],[.552,.262,9],[.529,.263,3],[.596,.203,6],[.844,.273,4],[.838,.275,4],[.694,.204,5]];
const strayOver=[[.427,.934,3],[.447,.946,7],[.432,.906,8],[.307,.791,2],[.302,.793,2],[.278,.694,9],[.196,.629,9],[.230,.614,9],[.232,.606,5],[.408,.614,7],[.691,.659,3],[.690,.631,0],[.699,.617,6],[.698,.418,5],[.195,.306,9],[.249,.278,8],[.326,.224,6],[.557,.295,6],[.538,.274,9],[.585,.224,8],[.620,.223,6],[.816,.285,2]];
const classes=[[blueDeep,blueHidden,blue],[orangeDeep,orangeHidden,orange],[greenDeep,greenHidden,green],[redDeep,redHidden,red],[purpleDeep,purpleHidden,purple],[brownDeep,brownHidden,brown],[pinkDeep,pinkHidden,pink],[grayDeep,grayHidden,gray],[oliveDeep,oliveHidden,olive],[cyanDeep,cyanHidden,cyan]];
const xMin=-0.0437,xMax=0.9295,yMin=0.0212,yMax=1.045;
const dot={symbol:'circle',symbolSize:14,silent:true};
const edge={borderColor:'#fff',borderWidth:1,opacity:1};
const axisCommon=(ticks)=>({type:'value',
  axisLine:{show:false},
  axisTick:{show:false,customValues:ticks},
  splitLine:{show:true,lineStyle:{color:'#cccccc',width:1.25}},
  axisLabel:{customValues:ticks,color:'#262626',fontFamily:'Liberation Sans',fontSize:54.5,formatter:v=>v.toFixed(1)}});
const series=[
  {type:'scatter',...dot,z:2,data:strayUnder,itemStyle:{...edge,color:p=>palette[p.value[2]]}},
  ...classes.map((d,i)=>({type:'scatter',...dot,z:3,data:d[0].concat(d[1],d[2]),itemStyle:{...edge,color:palette[i]}})),
  {type:'scatter',...dot,z:4,data:strayOver,itemStyle:{...edge,color:p=>palette[p.value[2]]}}
];
const chart=echarts.init(document.getElementById('c'),null,{renderer:'canvas'});
const xa=axisCommon(xTicks);xa.min=xMin;xa.max=xMax;xa.axisLabel.margin=6;
const ya=axisCommon(yTicks);ya.min=yMin;ya.max=yMax;ya.axisLabel.margin=12;ya.axisLabel.padding=[10,0,0,0];
chart.setOption({animation:false,backgroundColor:'#fff',
  grid:{left:97,right:12,top:12,bottom:64,show:true,borderColor:'#cccccc',borderWidth:1.25,outerBoundsMode:'none'},
  xAxis:xa,yAxis:ya,series});
</script></body></html>
